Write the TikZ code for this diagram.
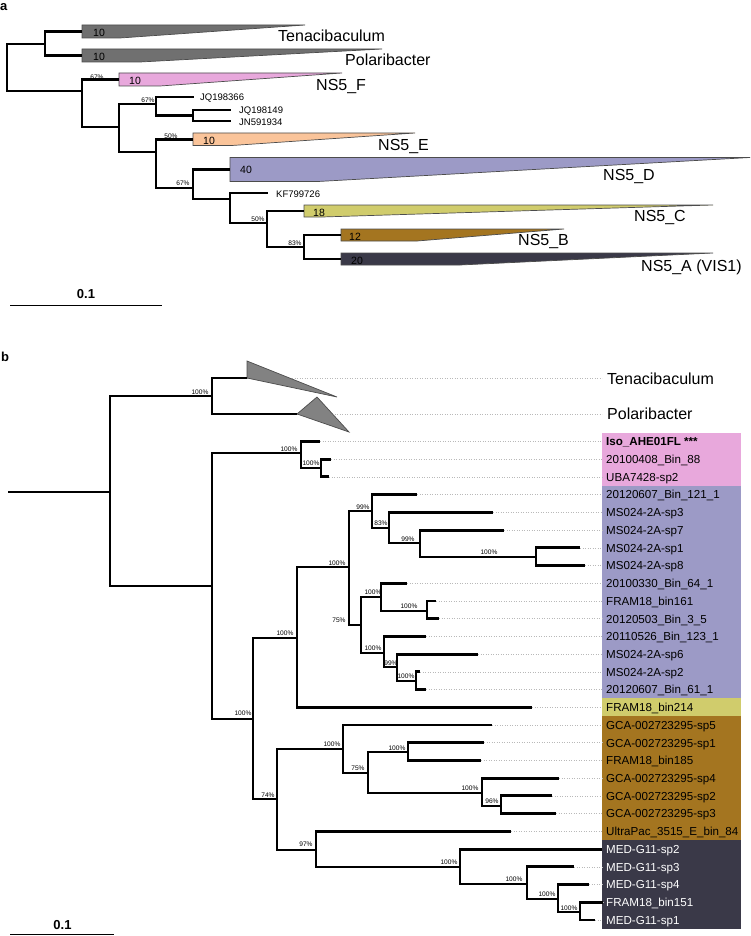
\documentclass[tikz,border=0pt]{standalone}
\usepackage{fontspec}
\setmainfont{Liberation Sans}
\usetikzlibrary{positioning}

\definecolor{outA}{RGB}{112,112,112}
\definecolor{outB}{RGB}{130,130,130}
\definecolor{nsF}{RGB}{232,168,220}
\definecolor{nsE}{RGB}{250,196,154}
\definecolor{nsD}{RGB}{156,154,198}
\definecolor{nsC}{RGB}{208,204,108}
\definecolor{nsB}{RGB}{164,117,32}
\definecolor{nsA}{RGB}{58,57,72}

\begin{document}
\begin{tikzpicture}[
    x=1pt, y=-1pt,
    branch/.style  = {line width=2.1pt},
    bbranch/.style = {line width=2.9pt},
    wedge/.style   = {draw=black!70, line width=0.7pt},
    leader/.style  = {gray!55, dotted, line width=0.5pt},
    clade/.style   = {inner sep=0, anchor=base west, font=\fontsize{16}{18}\selectfont},
    seqlab/.style  = {inner sep=0, anchor=base west, font=\fontsize{9.5}{11}\selectfont},
    numlab/.style  = {inner sep=0, anchor=base west, font=\fontsize{10.5}{12}\selectfont},
    boot/.style    = {inner sep=0, font=\fontsize{6.6}{8}\selectfont},
    leaf/.style    = {inner sep=0, anchor=base west, font=\fontsize{11.6}{13}\selectfont},
    panel/.style   = {inner sep=0, anchor=base west, font=\fontsize{13}{15}\selectfont\bfseries},
    barlab/.style  = {inner sep=0, anchor=base, font=\fontsize{13}{15}\selectfont\bfseries}
]
\useasboundingbox (0,0) rectangle (750,936);

%% ---------------- panel a ----------------
\node[panel] (pa) at (0,10.5) {a};

% inner nodes
\coordinate (aR)   at (7,67);
\coordinate (aTP)  at (45,44);
\coordinate (aNS)  at (82,91);
\coordinate (aJ)   at (119,127);
\coordinate (aJQ)  at (156,104);
\coordinate (aJQ2) at (193,115.5);
\coordinate (aE)   at (156,152);
\coordinate (aD)   at (193,188);
\coordinate (aK)   at (230,199);
\coordinate (aC)   at (267,223);
\coordinate (aBA)  at (304,247);

% collapsed clades, left middle of each wedge
\coordinate (wTen) at (82,31.5);
\coordinate (wPol) at (82,55.5);
\coordinate (wF)   at (119,79.5);
\coordinate (wE)   at (193,139.5);
\coordinate (wD)   at (230,169.5);
\coordinate (wC)   at (304,211);
\coordinate (wB)   at (341,235);
\coordinate (wA)   at (341,259);

% single sequences
\coordinate (sJQ1) at (194,97);
\coordinate (sJQ2) at (231,110);
\coordinate (sJN)  at (231,121);
\coordinate (sKF)  at (268,193);

% wedges
\filldraw[wedge, fill=outA] (82,25)    -- (305,25)    -- (120,38)    -- (82,38)    -- cycle;
\filldraw[wedge, fill=outA] (82,49)    -- (382,49)    -- (140,62)    -- (82,62)    -- cycle;
\filldraw[wedge, fill=nsF]  (119,73)   -- (342,73)    -- (160,86)    -- (119,86)   -- cycle;
\filldraw[wedge, fill=nsE]  (193,133)  -- (415,133)   -- (232,145.5) -- (193,145.5) -- cycle;
\filldraw[wedge, fill=nsD]  (230,157.5) -- (750,157.5) -- (318,181.5) -- (230,181.5) -- cycle;
\filldraw[wedge, fill=nsC]  (304,205)  -- (713,205)   -- (322,217)   -- (304,217)  -- cycle;
\filldraw[wedge, fill=nsB]  (341,229)  -- (564,229)   -- (417,241)   -- (341,241)  -- cycle;
\filldraw[wedge, fill=nsA]  (341,253)  -- (713,253)   -- (460,265)   -- (341,265)  -- cycle;

% branches
\foreach \p/\c in {aR/aTP, aR/aNS, aTP/wTen, aTP/wPol, aNS/wF, aNS/aJ,
                   aJ/aJQ, aJ/aE, aJQ/sJQ1, aJQ/aJQ2, aJQ2/sJQ2, aJQ2/sJN,
                   aE/wE, aE/aD, aD/wD, aD/aK, aK/sKF, aK/aC,
                   aC/wC, aC/aBA, aBA/wB, aBA/wA}
    \draw[branch] (\p) |- (\c);

% sizes of collapsed clades
\foreach \x/\y/\n [count=\k] in {93/37/10, 93/61/10, 129/85/10, 203/144.3/10,
                                 240/174/40, 313/216.7/18, 349/240/12, 351/264/20}
    \node[numlab] (n\k) at (\x,\y) {\n};

% clade names
\node[clade] (cTen) at (278,42)    {Tenacibaculum};
\node[clade] (cPol) at (345,66)    {Polaribacter};
\node[clade] (cF)   at (316,90.5)  {NS5\_F};
\node[clade] (cE)   at (378,151)   {NS5\_E};
\node[clade] (cD)   at (603,180)   {NS5\_D};
\node[clade] (cC)   at (634,221.5) {NS5\_C};
\node[clade] (cB)   at (518,245.5) {NS5\_B};
\node[clade] (cA)   at (641,271)   {NS5\_A (VIS1)};

% sequence names
\node[seqlab] (lJQ1) at (200,100.7) {JQ198366};
\node[seqlab] (lJQ2) at (239,113.3) {JQ198149};
\node[seqlab] (lJN)  at (239,126)   {JN591934};
\node[seqlab] (lKF)  at (276,197.7) {KF799726};

% support values
\foreach \x/\y/\b [count=\k] in {97/77/67, 148/100/67, 171/136/50,
                                 183/183/67, 258/219/50, 295/243/83}
    \node[boot] (ba\k) at (\x,\y) {\b\%};

% scale bar
\coordinate (sa1) at (10,305.5);
\coordinate (sa2) at (162,305.5);
\draw[line width=1.6pt] (sa1) -- (sa2);
\node[barlab] (sal) at (86,298) {0.1};

%% ---------------- panel b ----------------
\node[panel] (pb) at (1,361) {b};

% label column
\coordinate (boxL) at (602,0);
\fill[nsF] (602,432.64) rectangle (741,485.8);
\fill[nsD] (602,485.8)  rectangle (741,698.44);
\fill[nsC] (602,698.44) rectangle (741,716.16);
\fill[nsB] (602,716.16) rectangle (741,840.2);
\fill[nsA] (602,840.2)  rectangle (741,928.8);

% inner nodes
\coordinate (bS)    at (8,492);
\coordinate (bR)    at (110,492);
\coordinate (bTP)   at (212,396);
\coordinate (wTenB) at (247,378);
\coordinate (wPolB) at (297,414);
\coordinate (bIn)   at (212,586);
\coordinate (bIso)  at (301,453);
\coordinate (bIso2) at (321,468);
\coordinate (bX)    at (253,719);
\coordinate (bDC)   at (297,638);
\coordinate (bD)    at (349,567);
\coordinate (bD1)   at (372,511);
\coordinate (bD1a)  at (389,528);
\coordinate (bD1b)  at (420,543);
\coordinate (bD1c)  at (536,557);
\coordinate (bD2)   at (361,625);
\coordinate (bD2a)  at (381,597);
\coordinate (bD2c)  at (427,611);
\coordinate (bD2b)  at (384,653);
\coordinate (bD2d)  at (397,667);
\coordinate (bD2e)  at (416,681);
\coordinate (bBA)   at (277,799);
\coordinate (bB)    at (343,749);
\coordinate (bB1)   at (368,773);
\coordinate (bB2)   at (408,752);
\coordinate (bB3)   at (482,793);
\coordinate (bB4)   at (501,806);
\coordinate (bA)    at (316,850);
\coordinate (bA1)   at (460,867);
\coordinate (bA2)   at (527,884);
\coordinate (bA3)   at (558,899);
\coordinate (bA4)   at (580,912);

% tips, one per row
\foreach \x [count=\i from 0] in {320,331,329,417,493,504,580,585,407,436,439,426,478,420,
                                  426,532,492,484,481,559,552,556,511,602,574,589,603,595}
    \coordinate (t\i) at (\x,{441.5+17.72*\i});

% dotted leaders
\foreach \i in {0,...,27}
    \draw[leader] (t\i) -- (t\i -| boxL);
\draw[leader] (wTenB) -- (wTenB -| boxL);
\draw[leader] (wPolB) -- (wPolB -| boxL);

% outgroup triangles
\filldraw[wedge, fill=outB] (247,361) -- (337,397) -- (247,378) -- cycle;
\filldraw[wedge, fill=outB] (297,414) -- (317,397) -- (349,432) -- cycle;

% branches
\draw[bbranch] (bS) -- (bR);
\foreach \p/\c in {bR/bTP, bR/bIn, bTP/wTenB, bTP/wPolB, bIn/bIso, bIn/bX,
                   bIso/t0, bIso/bIso2, bIso2/t1, bIso2/t2,
                   bX/bDC, bX/bBA, bDC/bD, bDC/t15, bD/bD1, bD/bD2,
                   bD1/t3, bD1/bD1a, bD1a/t4, bD1a/bD1b, bD1b/t5, bD1b/bD1c,
                   bD1c/t6, bD1c/t7, bD2/bD2a, bD2/bD2b, bD2a/t8, bD2a/bD2c,
                   bD2c/t9, bD2c/t10, bD2b/t11, bD2b/bD2d, bD2d/t12, bD2d/bD2e,
                   bD2e/t13, bD2e/t14, bBA/bB, bBA/bA, bB/t16, bB/bB1,
                   bB1/bB2, bB1/bB3, bB2/t17, bB2/t18, bB3/t19, bB3/bB4,
                   bB4/t20, bB4/t21, bA/t22, bA/bA1, bA1/t23, bA1/bA2,
                   bA2/t24, bA2/bA3, bA3/t25, bA3/bA4, bA4/t26, bA4/t27}
    \draw[bbranch] (\p) |- (\c);

% support values
\foreach \x/\y/\b [count=\k] in {200/392/100, 289/449/100, 311/463/100, 337/563/100,
                                 363/507/99, 381/523/83, 408/539/99, 489/552/100,
                                 339/620/75, 373/592/100, 409/606/100, 373/648/100,
                                 391/663/99, 406/676/100, 243/713/100, 285/633/100,
                                 268/795/74, 332/744/100, 358/768/75, 397/748/100,
                                 470/788/100, 492/801/96, 306/844/97, 449/862/100,
                                 514/879/100, 547/894/100, 569/908/100}
    \node[boot] (bb\k) at (\x,\y) {\b\%};

% outgroup names
\node[clade] (cTenB) at (607,384) {Tenacibaculum};
\node[clade] (cPolB) at (607,419) {Polaribacter};

% genome names
\node[leaf, font=\fontsize{11.6}{13}\selectfont\bfseries] (l0) at (606,445.8) {Iso\_AHE01FL ***};
\foreach \name [count=\i from 1] in {20100408\_Bin\_88, UBA7428-sp2, 20120607\_Bin\_121\_1,
        MS024-2A-sp3, MS024-2A-sp7, MS024-2A-sp1, MS024-2A-sp8, 20100330\_Bin\_64\_1,
        FRAM18\_bin161, 20120503\_Bin\_3\_5, 20110526\_Bin\_123\_1, MS024-2A-sp6,
        MS024-2A-sp2, 20120607\_Bin\_61\_1, FRAM18\_bin214, GCA-002723295-sp5,
        GCA-002723295-sp1, FRAM18\_bin185, GCA-002723295-sp4, GCA-002723295-sp2,
        GCA-002723295-sp3, UltraPac\_3515\_E\_bin\_84}
    \node[leaf] (l\i) at (606,{445.8+17.72*\i}) {\name};
\foreach \name [count=\i from 23] in {MED-G11-sp2, MED-G11-sp3, MED-G11-sp4,
                                      FRAM18\_bin151, MED-G11-sp1}
    \node[leaf, white] (l\i) at (606,{445.8+17.72*\i}) {\name};

% scale bar
\coordinate (sb1) at (10,934.5);
\coordinate (sb2) at (114,934.5);
\draw[line width=1.8pt] (sb1) -- (sb2);
\node[barlab] (sbl) at (62.5,929) {0.1};

\end{tikzpicture}
\end{document}
